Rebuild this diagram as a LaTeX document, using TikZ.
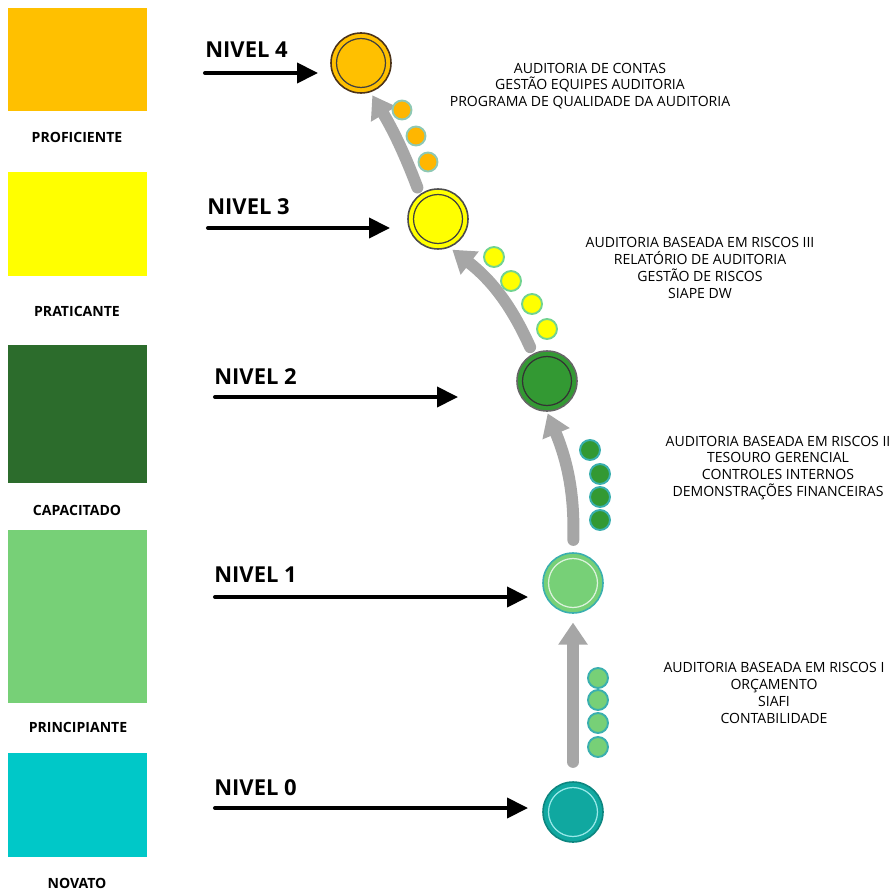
\documentclass[tikz,border=0pt]{standalone}
\usepackage{fontspec}
\setmainfont{Open Sans}
\usetikzlibrary{positioning}
\usetikzlibrary{arrows.meta,calc}
\usetikzlibrary{fit}

\definecolor{proficiente}{HTML}{FFC000}
\definecolor{praticante}{HTML}{FFFF00}
\definecolor{capacitado}{HTML}{2C6C2C}
\definecolor{capacitadoc}{HTML}{339933}
\definecolor{principiante}{HTML}{77D077}
\definecolor{novato}{HTML}{00C8C8}
\definecolor{novatoc}{HTML}{10A8A0}
\definecolor{tealline}{HTML}{3AAFAF}
\definecolor{dotline}{HTML}{8EC8B4}
\definecolor{trilha}{HTML}{A6A6A6}

\tikzset{
  box/.style={draw=none, inner sep=0pt},
  boxlabel/.style={font=\fontsize{8}{10}\selectfont\bfseries},
  nivel/.style={font=\fontsize{12.5}{14}\selectfont\bfseries, anchor=west, inner sep=0pt},
  nivelarrow/.style={line width=2.3pt, line cap=round, -{Triangle[width=0.4cm,length=0.42cm]}},
  stage/.style={circle, inner sep=0pt, minimum size=1.2cm, line width=0.9pt,
    path picture={\draw[line width=0.7pt,#1] (path picture bounding box.center) circle (0.49cm);}},
  dot/.style={circle, inner sep=0pt, minimum size=0.38cm, line width=1.1pt},
  trail/.style={draw=trilha, line width=6.8pt, line cap=round, -{Triangle[width=0.56cm,length=0.44cm]}},
  topics/.style={font=\fontsize{8}{9.6}\selectfont, align=center, inner sep=0pt}
}

\begin{document}
\begin{tikzpicture}[x=0.02cm, y=-0.02cm]
\useasboundingbox (0,0) rectangle (894,895);
% levels on the left
\node[box, fill=proficiente, fit={(8,8) (147,111)}] (bprof) {};
\node[box, fill=praticante, fit={(8,172) (147,276)}] (bprat) {};
\node[box, fill=capacitado, fit={(8,345) (147,483)}] (bcap) {};
\node[box, fill=principiante, fit={(8,530) (147,703)}] (bprin) {};
\node[box, fill=novato, fit={(8,753) (147,857)}] (bnov) {};
\node[boxlabel] (lprof) at (77,137) {PROFICIENTE};
\node[boxlabel] (lprat) at (77,311) {PRATICANTE};
\node[boxlabel] (lcap) at (77,510) {CAPACITADO};
\node[boxlabel] (lprin) at (78,727) {PRINCIPIANTE};
\node[boxlabel] (lnov) at (77,883) {NOVATO};

% stages
\node[stage=black!75, fill=proficiente, draw=black!60!brown] (n4) at (361,63) {};
\node[stage=black!75, fill=praticante, draw=black!70] (n3) at (438,219) {};
\node[stage=black!80, fill=capacitadoc, draw=black!60] (n2) at (547,381) {};
\node[stage=white!75!principiante, fill=principiante, draw=tealline] (n1) at (573,583) {};
\node[stage=white!60!novato, fill=novatoc, draw=novatoc!80!black] (n0) at (573,812) {};

% NIVEL arrows
\node[nivel] (t4) at (205,50) {NIVEL 4};
\node[nivel] (t3) at (207,207) {NIVEL 3};
\node[nivel] (t2) at (214,377) {NIVEL 2};
\node[nivel] (t1) at (214,575) {NIVEL 1};
\node[nivel] (t0) at (214,788) {NIVEL 0};
\coordinate (s4) at (205,73);  \coordinate (e4) at (318,73);
\coordinate (s3) at (208,228); \coordinate (e3) at (390,228);
\coordinate (s2) at (215,397); \coordinate (e2) at (458,397);
\coordinate (s1) at (215,597); \coordinate (e1) at (528,597);
\coordinate (s0) at (215,808); \coordinate (e0) at (528,808);
\draw[nivelarrow] (s4) -- (e4);
\draw[nivelarrow] (s3) -- (e3);
\draw[nivelarrow] (s2) -- (e2);
\draw[nivelarrow] (s1) -- (e1);
\draw[nivelarrow] (s0) -- (e0);

% trail between stages
\draw[trail, shorten <=11pt, shorten >=5pt] (n0.north) -- (n1.south);
\draw[trail, shorten <=7pt, shorten >=1pt] (n1.north) to[bend right=12] (n2.south);
\draw[trail, shorten <=4pt, shorten >=2pt] (n2.117) to[bend right=14] (n3.-68);
\draw[trail, shorten <=4pt, shorten >=2pt] (n3.126) to[bend right=5] (n4.-72);

% courses
\foreach \x/\y in {402/110, 416/136, 428/162}
  \node[dot, fill=proficiente!95!red, draw=dotline] at (\x,\y) {};
\foreach \x/\y in {494/257, 511/281, 532/304, 547/329}
  \node[dot, minimum size=0.4cm, fill=praticante, draw=dotline!80!green] at (\x,\y) {};
\foreach \x/\y in {590/450, 600/474, 600/497, 600/520}
  \node[dot, minimum size=0.4cm, fill=capacitadoc, draw=tealline] at (\x,\y) {};
\foreach \x/\y in {598/678, 598/700, 598/723, 598/747}
  \node[dot, minimum size=0.4cm, fill=principiante, draw=tealline] at (\x,\y) {};

\node[topics] (c4) at (590,86) {AUDITORIA DE CONTAS\\GESTÃO EQUIPES AUDITORIA\\PROGRAMA DE QUALIDADE DA AUDITORIA};
\node[topics] (c3) at (700,268) {AUDITORIA BASEADA EM RISCOS III\\RELATÓRIO DE AUDITORIA\\GESTÃO DE RISCOS\\SIAPE DW};
\node[topics] (c2) at (778,468) {AUDITORIA BASEADA EM RISCOS II\\TESOURO GERENCIAL\\CONTROLES INTERNOS\\DEMONSTRAÇÕES FINANCEIRAS};
\node[topics] (c1) at (774,693) {AUDITORIA BASEADA EM RISCOS I\\ORÇAMENTO\\SIAFI\\CONTABILIDADE};
\end{tikzpicture}
\end{document}
